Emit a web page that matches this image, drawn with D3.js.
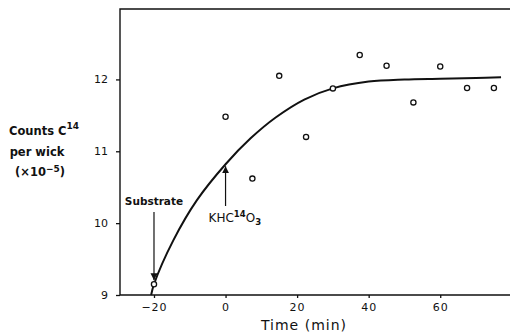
<!DOCTYPE html>
<html>
<head>
<meta charset="utf-8">
<script src="https://cdn.jsdelivr.net/npm/d3@7"></script>
<style>
  body { margin: 0; background: #fff; }
  text { font-family: "DejaVu Sans", sans-serif; fill: #111; }
</style>
</head>
<body>
<div class="chart"></div>
<script>
// measured points (time in min, counts x 10^-5)
const pointTimes = [-20, 0, 7.5, 15, 22.5, 30, 37.5, 45, 52.5, 60, 67.5, 75];
const pointCounts = [9.15, 11.48, 10.62, 12.05, 11.2, 11.875, 12.34, 12.19, 11.68, 12.18, 11.88, 11.88];

// hand-drawn fitted curve
const curveTimes = [-20.8, -20, -14.6, -8, 0, 7, 14, 22, 30, 40, 50, 60, 70, 77];
const curveCounts = [9.0, 9.15, 9.76, 10.32, 10.82, 11.18, 11.47, 11.72, 11.875, 11.97, 12.0, 12.01, 12.02, 12.03];

const xTicks = [-20, 0, 20, 40, 60];
const yTicks = [9, 10, 11, 12];

const width = 510, height = 336;
const margin = { top: 9, right: 0, bottom: 41, left: 120 };

const svg = d3.select('.chart').append('svg')
  .attr('width', width)
  .attr('height', height);

const x = d3.scaleLinear().domain([-29.5, 79.5]).range([margin.left, width - margin.right]);
const y = d3.scaleLinear().domain([9, 12.98]).range([height - margin.bottom, margin.top]);

// frame: left, top, bottom
svg.append('path')
  .attr('d', `M${width},${margin.top}H${margin.left}V${height - margin.bottom}H${width}`)
  .attr('fill', 'none')
  .attr('stroke', '#111')
  .attr('stroke-width', 1.4);

// x axis
const xAxis = svg.append('g')
  .attr('transform', `translate(0,${height - margin.bottom})`)
  .call(d3.axisBottom(x).tickValues(xTicks).tickSize(3).tickPadding(5)
    .tickFormat(d => d < 0 ? '\u2212' + Math.abs(d) : d));
xAxis.select('.domain').remove();
xAxis.selectAll('line').attr('stroke', '#111').attr('stroke-width', 1.3);
xAxis.selectAll('text').attr('font-size', 11).attr('font-family', '"DejaVu Sans", sans-serif').attr('fill', '#111').style('letter-spacing', '1px');

// y axis
const yAxis = svg.append('g')
  .attr('transform', `translate(${margin.left},0)`)
  .call(d3.axisLeft(y).tickValues(yTicks).tickSize(4).tickPadding(8).tickFormat(d3.format('d')));
yAxis.select('.domain').remove();
yAxis.selectAll('line').attr('stroke', '#111').attr('stroke-width', 1.3);
yAxis.selectAll('text').attr('font-size', 11).attr('font-family', '"DejaVu Sans", sans-serif').attr('fill', '#111');

// fitted curve
const curveData = curveTimes.map((t, i) => [t, curveCounts[i]]);
svg.append('path')
  .datum(curveData)
  .attr('fill', 'none')
  .attr('stroke', '#111')
  .attr('stroke-width', 2)
  .attr('d', d3.line().x(d => x(d[0])).y(d => y(d[1])).curve(d3.curveCatmullRom.alpha(0.5)));

// data points
svg.selectAll('circle.pt')
  .data(pointTimes.map((t, i) => [t, pointCounts[i]]))
  .enter()
  .append('circle')
  .attr('class', 'pt')
  .attr('cx', d => x(d[0]))
  .attr('cy', d => y(d[1]))
  .attr('r', 2.6)
  .attr('fill', '#fff')
  .attr('stroke', '#111')
  .attr('stroke-width', 1.3);

// arrow marker
svg.append('defs').append('marker')
  .attr('id', 'head')
  .attr('viewBox', '0 0 10 10')
  .attr('refX', 10).attr('refY', 5)
  .attr('markerWidth', 7).attr('markerHeight', 7)
  .attr('markerUnits', 'userSpaceOnUse')
  .attr('orient', 'auto')
  .append('path')
  .attr('d', 'M0,0L10,5L0,10z')
  .attr('fill', '#111');

// Substrate annotation
svg.append('text')
  .attr('x', x(-20)).attr('y', 205)
  .attr('text-anchor', 'middle')
  .attr('font-size', 10.5)
  .attr('font-weight', 'bold')
  .text('Substrate');
svg.append('line')
  .attr('x1', x(-20)).attr('x2', x(-20))
  .attr('y1', 212).attr('y2', y(9.15) - 4)
  .attr('stroke', '#111').attr('stroke-width', 1.2)
  .attr('marker-end', 'url(#head)');

// KHC14O3 annotation
const khc = svg.append('text')
  .attr('x', x(0) - 17).attr('y', 222)
  .attr('font-size', 12);
khc.append('tspan').text('KHC');
khc.append('tspan').attr('font-size', 8.5).attr('font-weight', 'bold').attr('dy', -5).text('14');
khc.append('tspan').attr('dy', 5).text('O');
khc.append('tspan').attr('font-size', 8.5).attr('font-weight', 'bold').attr('dy', 3).text('3');
svg.append('line')
  .attr('x1', x(0)).attr('x2', x(0))
  .attr('y1', 206).attr('y2', y(10.82) + 2)
  .attr('stroke', '#111').attr('stroke-width', 1.2)
  .attr('marker-end', 'url(#head)');

// y axis title
const yt = svg.append('g').attr('font-size', 11.5).attr('font-weight', 'bold');
const l1 = yt.append('text').attr('x', 44).attr('y', 135).attr('text-anchor', 'middle');
l1.append('tspan').text('Counts C');
l1.append('tspan').attr('font-size', 9).attr('dy', -6).text('14');
yt.append('text').attr('x', 37).attr('y', 156).attr('text-anchor', 'middle').text('per wick');
const l3 = yt.append('text').attr('x', 40).attr('y', 176).attr('text-anchor', 'middle');
l3.append('tspan').text('(\u00d710');
l3.append('tspan').attr('font-size', 9).attr('dy', -4).text('\u22125');
l3.append('tspan').attr('dy', 4).text(')');

// x axis title
svg.append('text')
  .attr('x', 304).attr('y', 330)
  .attr('text-anchor', 'middle')
  .attr('font-size', 14)
  .style('letter-spacing', '1px')
  .text('Time  (min)');
</script>
</body>
</html>
